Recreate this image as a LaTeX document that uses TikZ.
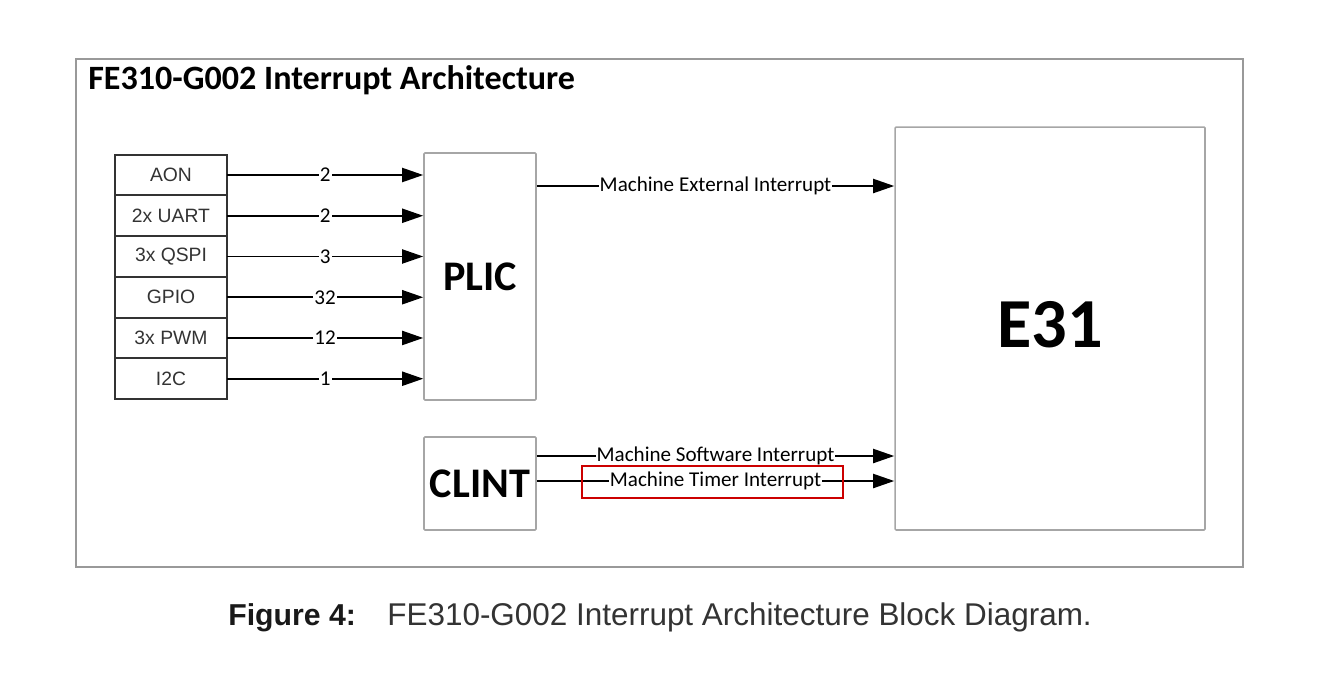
\documentclass[tikz,border=0pt]{standalone}
\usepackage{fontspec}
\setmainfont{Carlito}
\newfontfamily\arialfont{Liberation Sans}
\usetikzlibrary{arrows.meta,positioning}

\begin{document}
\begin{tikzpicture}[x=0.02cm,y=-0.02cm,
    frame/.style={draw=black!40,line width=0.9pt},
    block/.style={draw=black!35,line width=0.9pt,rounded corners=0.6pt,fill=white,inner sep=0pt},
    periph/.style={draw=black!80,line width=1.1pt,minimum width=2.24cm,minimum height=0.815cm,
                   outer sep=0pt,inner sep=0pt,font=\arialfont\fontsize{11}{13}\selectfont,text=black!80},
    sig/.style={line width=1.1pt,-{Triangle[length=12pt,width=8pt]}},
    num/.style={fill=white,inner sep=0.6pt,font=\fontsize{12}{14}\selectfont},
    lbl/.style={fill=white,inner sep=0.6pt,font=\fontsize{12}{14}\selectfont},
    hilite/.style={draw=red!80!black,line width=1.4pt}]
\useasboundingbox (0,0) rectangle (1338,694);

% Frame and title
\draw[frame] (76,59) rectangle (1243,567);
\node[anchor=base west,inner sep=0pt,font=\bfseries\fontsize{19.4}{22}\selectfont] (title) at (88,89)
  {FE310-G002 Interrupt Architecture};

% Interrupt sources
\node[periph] (aon) at (171,175) {AON};
\node[periph,below=0pt of aon] (uart) {2x UART};
\node[periph,below=0pt of uart] (qspi) {3x QSPI};
\node[periph,below=0pt of qspi] (gpio) {GPIO};
\node[periph,below=0pt of gpio] (pwm) {3x PWM};
\node[periph,below=0pt of pwm] (iic) {I2C};

% Controllers and core
\node[block,minimum width=2.24cm,minimum height=4.94cm,font=\bfseries\fontsize{24}{28}\selectfont]
  (plic) at (480,276.5) {PLIC};
\node[block,minimum width=2.24cm,minimum height=1.86cm,font=\bfseries\fontsize{24}{28}\selectfont]
  (clint) at (480,483.5) {CLINT};
\node[block,minimum width=6.2cm,minimum height=8.06cm,font=\bfseries\fontsize{40}{46}\selectfont,
  text depth=0.18cm] (core) at (1050,328.5) {E31};

% Sources to PLIC
\draw[sig] (aon.east) -- node[num]{2} (aon.east -| plic.west);
\draw[sig] (uart.east) -- node[num]{2} (uart.east -| plic.west);
\draw[sig] (qspi.east) -- node[num]{3} (qspi.east -| plic.west);
\draw[sig] (gpio.east) -- node[num]{32} (gpio.east -| plic.west);
\draw[sig] (pwm.east) -- node[num]{12} (pwm.east -| plic.west);
\draw[sig] (iic.east) -- node[num]{1} (iic.east -| plic.west);

% PLIC and CLINT to E31
\coordinate (ext) at (plic.east |- 0,186);
\coordinate (sw) at (clint.east |- 0,456);
\coordinate (tmr) at (clint.east |- 0,481);
\draw[sig] (ext) -- node[lbl]{Machine External Interrupt} (ext -| core.west);
\draw[sig] (sw) -- node[lbl]{Machine Software Interrupt} (sw -| core.west);
\draw[sig] (tmr) -- node[lbl] (tlbl) {Machine Timer Interrupt} (tmr -| core.west);
\draw[hilite] (582,466) rectangle (843,498);

% Caption
\node[anchor=base west,inner sep=0pt,font=\arialfont\bfseries\fontsize{17.2}{20}\selectfont,text=black!90]
  (fig) at (228,625) {Figure 4:};
\node[anchor=base west,inner sep=0pt,font=\arialfont\fontsize{17.9}{20}\selectfont,text=black!80]
  (cap) at (387,625) {FE310-G002 Interrupt Architecture Block Diagram.};
\end{tikzpicture}
\end{document}
